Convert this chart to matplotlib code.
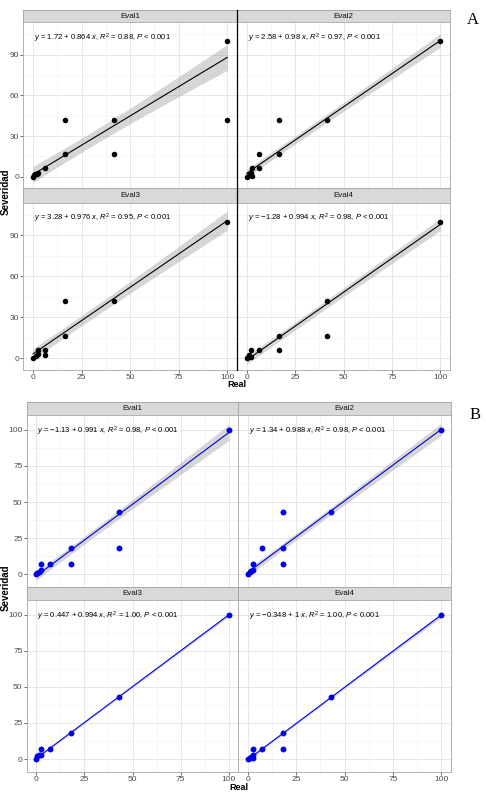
"""Severidad vs Real, two 2x2 facet blocks (A: black, B: blue)."""
import numpy as np
import matplotlib
matplotlib.use("Agg")
import matplotlib.pyplot as plt
from matplotlib.lines import Line2D
from matplotlib.ticker import MultipleLocator

plt.rcParams["font.family"] = ["Liberation Sans", "DejaVu Sans"]
plt.rcParams["mathtext.fontset"] = "custom"
plt.rcParams["mathtext.rm"] = "Liberation Sans"
plt.rcParams["mathtext.it"] = "Liberation Sans:italic"

W, H = 486, 794
evals = ["Eval1", "Eval2", "Eval3", "Eval4"]

# ---- block A (Real, Severidad) ----
a1_real = [0, 0.5, 1, 2, 2.5, 6.3, 16.7, 16.7, 41.7, 41.7, 100, 100]
a1_sev = [0, 1, 2, 2, 2.5, 6.3, 16.7, 42, 42, 16.7, 100, 42]
a2_real = [0, 1, 2, 2.5, 2.5, 6.5, 6.5, 16.7, 16.7, 41.7, 100]
a2_sev = [0, 1.5, 2.5, 0.5, 6.3, 6.3, 16.7, 16.7, 42, 42, 100]
a3_real = [0, 1.5, 2.4, 2.4, 6.3, 6.3, 16.7, 16.7, 41.7, 100]
a3_sev = [0, 2, 3.5, 6.3, 6.3, 2.5, 16.7, 42, 42, 100]
a4_real = [0, 0.5, 1.4, 2.2, 2.2, 6.5, 16.7, 16.7, 41.7, 41.7, 100]
a4_sev = [0, 1, 2.5, 1, 6.3, 6.3, 16.7, 6.3, 42, 16.7, 100]
a_intercept = [1.72, 2.58, 3.28, -1.28]
a_slope = [0.864, 0.98, 0.976, 0.994]
a_r2 = [0.88, 0.97, 0.95, 0.98]
a_band0 = [6, 3, 4, 3]        # CI half width at Real = 0
a_band100 = [9.5, 5, 7, 4.5]  # CI half width at Real = 100

# ---- block B ----
b1_real = [0, 0.5, 1.2, 2.6, 2.6, 7.2, 18, 18, 43, 43, 100]
b1_sev = [0, 1, 1.5, 3, 7, 7, 18, 7, 43, 18, 100]
b2_real = [0, 0.9, 1.7, 2.6, 2.6, 7.2, 18, 18, 18, 43, 100]
b2_sev = [0, 1.5, 2, 3, 7, 18, 18, 43, 7, 43, 100]
b3_real = [0, 0.3, 1.2, 2.6, 2.6, 7.2, 18, 43, 100]
b3_sev = [0, 2, 3, 3, 7, 7, 18, 43, 100]
b4_real = [0, 0.9, 1.7, 2.6, 2.6, 2.6, 7.2, 18, 18, 43, 100]
b4_sev = [0, 1, 1.5, 1, 3, 7, 7, 18, 7, 43, 100]
b_intercept = [-1.13, 1.34, 0.447, -0.348]
b_slope = [0.991, 0.988, 0.994, 1]
b_r2 = [0.98, 0.98, 1.00, 1.00]
b_band0 = [3, 2.5, 0.7, 0.9]
b_band100 = [5.5, 4.2, 1.2, 1.6]


def px_rect(x0, y0, x1, y1):
    return [x0 / W, 1 - y1 / H, (x1 - x0) / W, (y1 - y0) / H]


def fmt(v):
    s = f"{v:.3g}"
    return s.replace("-", "\u2212")


fig = plt.figure(figsize=(W / 100, H / 100), dpi=100, facecolor="white")


def draw_block(cols, rows, xs, ys, ints, slopes, r2s, band0, band100,
               color, ymajor, ylim, psize):
    for k in range(4):
        r, c = divmod(k, 2)
        x0, x1 = cols[c], cols[c + 1]
        s_top, s_bot, p_bot = rows[r]

        st = fig.add_axes(px_rect(x0, s_top, x1, s_bot))
        st.set_facecolor("#D9D9D9")
        st.set_xticks([])
        st.set_yticks([])
        for sp in st.spines.values():
            sp.set_color("#A0A0A0")
            sp.set_linewidth(0.6)
        st.text(0.5, 0.5, evals[k], ha="center", va="center",
                fontsize=5.8, color="#111111", transform=st.transAxes)

        ax = fig.add_axes(px_rect(x0, s_bot, x1, p_bot))
        ax.set_xlim(-5, 105)
        ax.set_ylim(*ylim)
        ax.set_axisbelow(True)
        ax.xaxis.set_major_locator(MultipleLocator(25))
        ax.xaxis.set_minor_locator(MultipleLocator(12.5))
        ax.yaxis.set_major_locator(MultipleLocator(ymajor))
        ax.yaxis.set_minor_locator(MultipleLocator(ymajor / 2))
        ax.grid(which="major", color="#E3E3E3", lw=0.6)
        ax.grid(which="minor", color="#F0F0F0", lw=0.4)
        for sp in ax.spines.values():
            sp.set_color("#A6A6A6")
            sp.set_linewidth(0.6)
        ax.tick_params(which="minor", length=0)
        ax.tick_params(which="major", length=2, width=0.5, color="#333333",
                       labelsize=6, labelcolor="#4D4D4D", pad=1)
        ax.tick_params(axis="y", left=(c == 0), labelleft=(c == 0))
        ax.tick_params(axis="x", bottom=(r == 1), labelbottom=(r == 1))

        x = np.array(xs[k], dtype=float)
        y = np.array(ys[k], dtype=float)
        xx = np.linspace(x.min(), x.max(), 100)
        fit = ints[k] + slopes[k] * xx
        m = x.mean()
        kk = (band100[k] ** 2 - band0[k] ** 2) / (10000 - 200 * m)
        cc = max(band0[k] ** 2 - kk * m ** 2, 0.05 * band0[k] ** 2)
        hw = np.sqrt(cc + kk * (xx - m) ** 2)
        ax.fill_between(xx, fit - hw, fit + hw, color="#999999", alpha=0.4,
                        lw=0, zorder=2)
        ax.plot(xx, fit, color=color, lw=0.8, zorder=3)
        ax.scatter(x, y, s=psize, color=color, lw=0, zorder=4)

        label = (rf"$y$ = {fmt(ints[k])} + {fmt(slopes[k])} $x$, "
                 rf"$R^2$ = {r2s[k]:.2f}, $P$ < 0.001")
        ax.text(0.05, 0.945, label, transform=ax.transAxes, ha="left",
                va="top", fontsize=5.5, color="black")


draw_block([23.3, 237, 450], [(10, 22.3, 188.3), (188.3, 202.7, 370)],
           [a1_real, a2_real, a3_real, a4_real],
           [a1_sev, a2_sev, a3_sev, a4_sev],
           a_intercept, a_slope, a_r2, a_band0, a_band100,
           "black", 30, (-8.5, 114), 16)

draw_block([26.7, 238.3, 450.7], [(402, 415, 587), (587, 600, 771.7)],
           [b1_real, b2_real, b3_real, b4_real],
           [b1_sev, b2_sev, b3_sev, b4_sev],
           b_intercept, b_slope, b_r2, b_band0, b_band100,
           "#0000EE", 25, (-8.8, 110.2), 18)

# black divider between the A columns
fig.add_artist(Line2D([237 / W, 237 / W], [1 - 10 / H, 1 - 370 / H],
                      color="black", lw=0.9))

for yc in (192, 588):
    fig.text(5.5 / W, 1 - yc / H, "Severidad", rotation=90, ha="center",
             va="center", fontsize=7, fontweight="bold")
fig.text(236.5 / W, 1 - 384.5 / H, "Real", ha="center", va="center",
         fontsize=6.5, fontweight="bold")
fig.text(238.7 / W, 1 - 787.5 / H, "Real", ha="center", va="center",
         fontsize=6.5, fontweight="bold")

fig.text(473 / W, 1 - 20 / H, "A", ha="center", va="center", fontsize=12,
         family="Liberation Serif")
fig.text(475 / W, 1 - 415 / H, "B", ha="center", va="center", fontsize=12,
         family="Liberation Serif")

fig.savefig("out.png", dpi=100, facecolor="white")
